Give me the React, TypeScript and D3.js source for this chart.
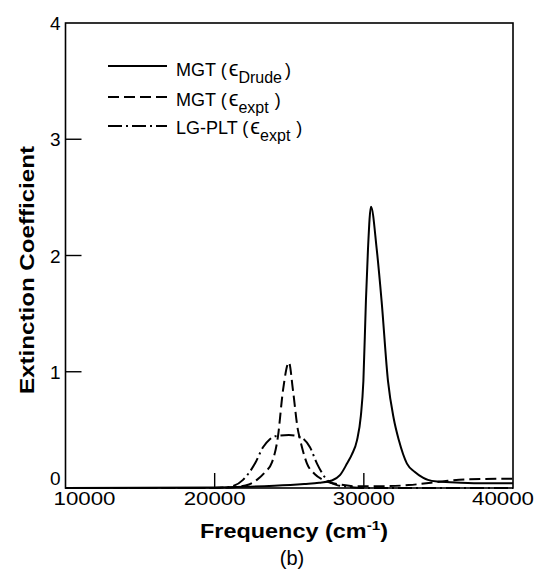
import React from "react";
import * as d3 from "d3";

const W = 534;
const H = 569;

const xTicks = [10000, 20000, 30000, 40000];
const yTicks = [0, 1, 2, 3, 4];

// MGT (eps Drude) - solid
const freqDrude = [10000, 20000, 22000, 24000, 26000, 27000, 27860, 28400, 28870, 29200, 29540, 29800, 29970, 30140, 30280, 30480, 30860, 31190, 31620, 32000, 32350, 32890, 33400, 33960, 34300, 35000, 36500, 38000, 40000];
const kDrude = [0, 0.005, 0.01, 0.02, 0.035, 0.045, 0.065, 0.11, 0.21, 0.29, 0.41, 0.62, 0.92, 1.61, 2.06, 2.42, 2.06, 1.61, 0.92, 0.6, 0.41, 0.21, 0.14, 0.09, 0.07, 0.055, 0.045, 0.04, 0.04];

// MGT (eps expt) - dashed
const freqMgtExpt = [10000, 20000, 21500, 22300, 22830, 23400, 23840, 24240, 24580, 24980, 25250, 25580, 25720, 26190, 26700, 27260, 28400, 29500, 31000, 33000, 34500, 35500, 37000, 40000];
const kMgtExpt = [0, 0, 0.01, 0.03, 0.07, 0.14, 0.22, 0.44, 0.84, 1.08, 0.84, 0.5, 0.42, 0.21, 0.12, 0.07, 0.03, 0.015, 0.015, 0.025, 0.045, 0.06, 0.075, 0.08];

// LG-PLT (eps expt) - dash-dot
const freqLgExpt = [10000, 20000, 21030, 21900, 22700, 23240, 23700, 24240, 24980, 25720, 26390, 26860, 27530, 28200, 29000, 30000, 40000];
const kLgExpt = [0, 0, 0.01, 0.07, 0.21, 0.35, 0.42, 0.45, 0.455, 0.44, 0.35, 0.21, 0.07, 0.025, 0.01, 0, 0];

const legendNames = ["MGT (", "MGT (", "LG-PLT ("];
const legendSubs = ["Drude", "expt", "expt"];

const FONT = "'Liberation Sans', Arial, Helvetica, sans-serif";

export default function App() {
  const left = 65.5, right = 513, top = 23, bottom = 488;
  const x = d3.scaleLinear().domain([10000, 40000]).range([left, right]);
  const y = d3.scaleLinear().domain([0, 4]).range([bottom, top]);

  const line = d3
    .line<[number, number]>()
    .x((d) => x(d[0]))
    .y((d) => y(d[1]))
    .curve(d3.curveMonotoneX);

  const zip = (a: number[], b: number[]) => a.map((v, i) => [v, b[i]] as [number, number]);

  const dashes = ["none", "11 5", "14 4 2 4"];
  const series = [
    { f: freqDrude, k: kDrude, dash: dashes[0] },
    { f: freqMgtExpt, k: kMgtExpt, dash: dashes[1] },
    { f: freqLgExpt, k: kLgExpt, dash: dashes[2] },
  ];

  const legendLineY = [66, 97, 126];
  const legendBase = [76, 106, 134];

  return (
    <svg
      width={W}
      height={H}
      style={{ position: "absolute", left: 0, top: 0, background: "#fff" }}
      fontFamily={FONT}
    >
      <rect x={0} y={0} width={W} height={H} fill="#fff" />
      {/* frame */}
      <rect x={left} y={top} width={right - left} height={bottom - top} fill="none" stroke="#000" strokeWidth={1.6} />
      {/* x ticks */}
      {xTicks.slice(1, -1).map((t) => (
        <line key={"xt" + t} x1={x(t)} x2={x(t)} y1={bottom} y2={bottom - 15} stroke="#000" strokeWidth={1.4} />
      ))}
      {/* y ticks */}
      {yTicks.slice(1, -1).map((t) => (
        <line key={"yt" + t} x1={left} x2={left + 16} y1={y(t)} y2={y(t)} stroke="#000" strokeWidth={1.4} />
      ))}
      {/* x tick labels */}
      {xTicks.map((t, i) => {
        const off = i === 0 ? 19 : i === xTicks.length - 1 ? -10 : 0;
        return (
          <text
            key={"xl" + t}
            x={x(t) + off}
            y={505}
            textAnchor="middle"
            fontSize={18}
            textLength={62}
            lengthAdjust="spacingAndGlyphs"
          >
            {t}
          </text>
        );
      })}
      {/* y tick labels */}
      {yTicks.map((t) => {
        const dy = t === 0 ? -3 : 7;
        return (
          <text key={"yl" + t} x={left - 5} y={y(t) + dy} textAnchor="end" fontSize={19}>
            {t}
          </text>
        );
      })}
      {/* axis titles */}
      <text
        transform={`translate(34, 270) rotate(-90)`}
        textAnchor="middle"
        fontSize={20}
        fontWeight="bold"
        textLength={248}
        lengthAdjust="spacingAndGlyphs"
      >
        Extinction Coefficient
      </text>
      <text
        x={200}
        y={538}
        fontSize={20}
        fontWeight="bold"
        textLength={188}
        lengthAdjust="spacingAndGlyphs"
      >
        Frequency (cm
        <tspan fontSize={13} dy={-8}>-1</tspan>
        <tspan dy={8}>)</tspan>
      </text>
      <text x={292} y={565} textAnchor="middle" fontSize={20}>
        (b)
      </text>
      {/* curves */}
      {series.map((s, i) => (
        <path
          key={"s" + i}
          d={line(zip(s.f, s.k)) || ""}
          fill="none"
          stroke="#000"
          strokeWidth={2}
          strokeDasharray={s.dash}
        />
      ))}
      {/* legend */}
      {legendNames.map((name, i) => (
        <g key={"lg" + i}>
          <line x1={108} x2={167} y1={legendLineY[i]} y2={legendLineY[i]} stroke="#000" strokeWidth={1.8} strokeDasharray={dashes[i]} />
          <text x={176} y={legendBase[i]} fontSize={18}>
            {name}
            <tspan dx={2} fontSize={22}>ϵ</tspan>
            <tspan fontSize={16} dy={7}>{legendSubs[i]}</tspan>
            <tspan dy={-7} dx={i === 0 ? 3 : 6}>)</tspan>
          </text>
        </g>
      ))}
    </svg>
  );
}
